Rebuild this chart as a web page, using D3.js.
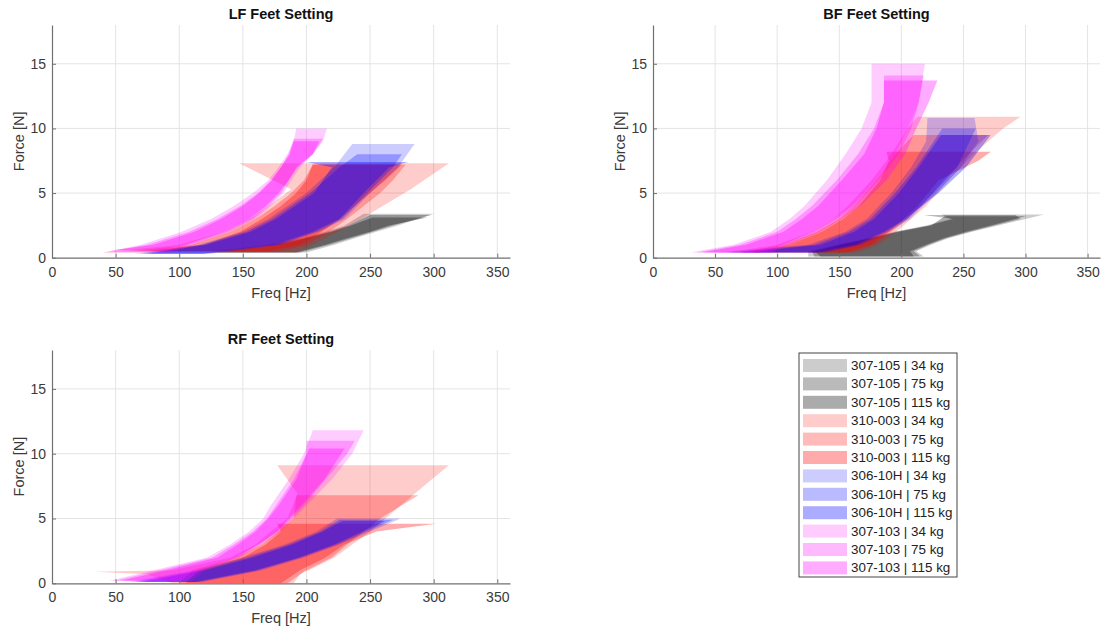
<!DOCTYPE html>
<html>
<head>
<meta charset="utf-8">
<script src="https://cdn.jsdelivr.net/npm/d3@7"></script>
<style>
  body { margin: 0; background: #fff; }
  svg { font-family: "Liberation Sans", Arial, sans-serif; }
</style>
</head>
<body>
<div id="chart"></div>
<script>
// series, in the order they are drawn (and listed in the legend)
const seriesNames = [
  "307-105 | 34 kg", "307-105 | 75 kg", "307-105 | 115 kg",
  "310-003 | 34 kg", "310-003 | 75 kg", "310-003 | 115 kg",
  "306-10H | 34 kg", "306-10H | 75 kg", "306-10H | 115 kg",
  "307-103 | 34 kg", "307-103 | 75 kg", "307-103 | 115 kg"
];
const seriesColors = ["#000000", "#000000", "#000000", "#ff0000", "#ff0000", "#ff0000",
                      "#0000ff", "#0000ff", "#0000ff", "#ff00ff", "#ff00ff", "#ff00ff"];
const seriesAlpha = [0.2, 0.27, 0.33, 0.2, 0.27, 0.33, 0.2, 0.27, 0.33, 0.2, 0.27, 0.33];

const xTicks = [0, 50, 100, 150, 200, 250, 300, 350];
const yTicks = [0, 5, 10, 15];

// each band: [force N, lowest freq Hz, highest freq Hz]
const lfBands = [
  [[0.4,120,200],[1,170,222],[1.5,195,238],[2,215,255],[2.5,230,272],[3.4,245,300]],
  [[0.4,125,195],[1,175,218],[1.5,198,235],[2,218,252],[2.5,233,268],[3.3,250,298]],
  [[0.4,130,192],[1,178,215],[1.5,200,232],[2,220,250],[2.5,235,265],[3.1,252,295]],
  [[0.4,40,192],[1,100,205],[2,135,225],[3,155,243],[4,170,260],[5.3,188,282],[7.3,147,312]],
  [[0.5,60,180],[1,110,200],[2,140,218],[3,160,232],[4,175,245],[5,188,258],[6,198,268],[7.2,205,278]],
  [[0.5,70,170],[1,120,195],[2,148,212],[3,165,226],[4,180,238],[5,192,250],[6,200,262],[7.2,205,275]],
  [[0.3,65,125],[1,115,180],[2,150,210],[3,170,230],[5,200,250],[7,222,272],[8.8,236,285]],
  [[0.3,70,120],[1,118,178],[2,153,208],[3,173,228],[5,203,248],[7,226,268],[8,240,275]],
  [[0.3,75,118],[1,121,175],[2,156,205],[3,176,226],[5,206,245],[7,220,265],[7.4,200,280]],
  [[0.4,40,95],[1,70,112],[2,102,140],[3,125,160],[4,143,172],[5,158,182],[6,170,188],[7,178,195],[8,185,205],[9,190,213],[10,192,216]],
  [[0.5,45,90],[1,75,108],[2,108,138],[3,130,158],[4,148,170],[5,162,180],[6,172,186],[7,180,192],[8,186,205],[9.2,190,213]],
  [[0.6,50,85],[1,80,105],[2,112,135],[3,133,155],[4,150,168],[5,163,178],[6,173,186],[7,180,193],[8,187,205],[9,190,210]]
];

const bfBands = [
  [[0.1,125,218],[0.5,125,212],[1,148,224],[1.5,172,238],[2,194,257],[2.5,220,278],[3,240,300],[3.35,232,315]],
  [[0.1,130,215],[0.5,128,210],[1,150,222],[1.5,175,236],[2,196,255],[2.5,222,275],[3,242,296],[3.3,218,292]],
  [[0.1,135,210],[0.5,130,207],[1,152,220],[1.5,176,234],[2,198,252],[2.5,224,272],[3.2,235,300]],
  [[0.4,60,165],[1,100,182],[2,128,196],[3,145,208],[4,157,220],[6,176,238],[8,192,258],[10,205,282],[10.9,213,296]],
  [[0.4,70,160],[1,105,178],[2,132,192],[3,150,205],[4,162,216],[6,180,234],[8,195,254],[9.5,210,270]],
  [[0.4,80,155],[1,110,175],[2,136,190],[3,153,202],[4,166,213],[6,183,230],[7.5,190,262],[8.2,188,272]],
  [[0.4,50,140],[1,125,168],[2,155,190],[3,172,207],[5,192,228],[7,208,248],[9,220,262],[10.8,221,259]],
  [[0.4,60,135],[1,130,165],[2,158,188],[3,175,205],[5,195,226],[7,212,245],[10,233,260]],
  [[0.4,70,130],[1,135,163],[2,162,186],[3,178,203],[5,198,230],[7,214,252],[9.5,232,272]],
  [[0.4,30,90],[1,65,105],[2,95,128],[3,110,145],[4,122,160],[6,140,180],[8,155,195],[10,168,205],[12,176,214],[15,176,219]],
  [[0.4,35,85],[1,70,105],[2,100,130],[3,115,148],[4,128,162],[6,148,182],[8,165,198],[10,178,208],[12,186,214],[14.1,186,218]],
  [[0.4,40,95],[1,75,110],[2,105,135],[3,120,152],[4,133,167],[6,152,188],[8,170,203],[10,180,212],[12,186,222],[13.7,186,229]]
];

const rfBands = [
  [], [], [],
  [[0,95,190],[0.7,75,195],[0.9,33,198],[1,95,202],[2,140,222],[3,160,236],[4,172,250],[5,185,262],[6.9,193,285],[9.1,177,312]],
  [[0,100,185],[1,110,200],[2,145,220],[3,165,232],[4,178,245],[5,190,258],[6.8,192,288]],
  [[0,105,180],[1,115,195],[2,150,215],[3,168,230],[4,180,255],[4.6,177,302]],
  [[0.1,60,118],[1,112,165],[2,150,198],[3,183,226],[4,208,250],[5,224,274]],
  [[0.1,65,115],[1,116,162],[2,154,196],[3,186,224],[4,211,247],[4.9,226,268]],
  [[0.1,70,112],[1,120,160],[2,158,194],[3,189,222],[4,213,244],[4.8,228,262]],
  [[0.2,45,110],[1,80,120],[2,122,148],[3,140,165],[4,155,180],[5,166,190],[6,172,200],[8,186,220],[10,198,236],[11.8,205,245]],
  [[0.2,50,105],[1,85,118],[2,126,146],[3,143,163],[4,158,178],[5,169,188],[6,176,198],[8,190,215],[10,200,232],[11,200,238]],
  [[0.2,55,100],[1,90,115],[2,130,145],[3,146,162],[4,160,177],[5,170,186],[6,178,196],[8,192,214],[10.4,202,230]]
];

const panels = [
  { title: "LF Feet Setting", bands: lfBands, left: 52,  right: 510,  top: 25,  bottom: 257.7 },
  { title: "BF Feet Setting", bands: bfBands, left: 653, right: 1100, top: 25,  bottom: 257.7 },
  { title: "RF Feet Setting", bands: rfBands, left: 52,  right: 510,  top: 350, bottom: 583.3 }
];

var svg = d3.select("#chart").append("svg")
            .attr("width", 1115)
            .attr("height", 630);

panels.forEach(function(p) {
    var x = d3.scaleLinear().domain([0, 360]).range([p.left, p.right]);
    var y = d3.scaleLinear().domain([0, 18]).range([p.bottom, p.top]);
    var g = svg.append("g");

    // grid
    g.append("g").selectAll("line").data(xTicks.slice(1)).enter().append("line")
        .attr("x1", d => x(d)).attr("x2", d => x(d))
        .attr("y1", p.top).attr("y2", p.bottom)
        .attr("stroke", "#e4e4e4").attr("stroke-width", 1);
    g.append("g").selectAll("line").data(yTicks.slice(1)).enter().append("line")
        .attr("x1", p.left).attr("x2", p.right)
        .attr("y1", d => y(d)).attr("y2", d => y(d))
        .attr("stroke", "#e4e4e4").attr("stroke-width", 1);

    // bands
    var area = d3.area()
                 .y(d => y(d[0]))
                 .x0(d => x(d[1]))
                 .x1(d => x(d[2]));

    g.append("g").selectAll("path")
        .data(p.bands.map((b, i) => ({ pts: b, i: i })).filter(d => d.pts.length))
        .enter().append("path")
        .attr("d", d => area(d.pts))
        .attr("fill", d => seriesColors[d.i])
        .attr("fill-opacity", d => seriesAlpha[d.i])
        .attr("stroke", "none");

    // axes
    var xAxis = g.append("g")
        .attr("transform", "translate(0," + p.bottom + ")")
        .call(d3.axisBottom(x).tickValues(xTicks).tickSizeInner(-4).tickSizeOuter(0).tickPadding(9));
    var yAxis = g.append("g")
        .attr("transform", "translate(" + p.left + ",0)")
        .call(d3.axisLeft(y).tickValues(yTicks).tickSizeInner(-4).tickSizeOuter(0).tickPadding(6));

    [xAxis, yAxis].forEach(function(a) {
        a.select(".domain").attr("stroke", "#707070").attr("stroke-width", 1.2);
        a.selectAll(".tick line").attr("stroke", "#707070");
        a.selectAll("text").attr("fill", "#3a3a3a").style("font-size", "14px")
         .style("font-family", "'Liberation Sans', Arial, sans-serif");
    });

    // labels
    g.append("text")
        .attr("x", (p.left + p.right) / 2).attr("y", p.top - 11)
        .attr("text-anchor", "middle").attr("dominant-baseline", "central")
        .style("font-size", "14.5px").style("font-weight", "bold").attr("fill", "#111")
        .text(p.title);
    g.append("text")
        .attr("x", (p.left + p.right) / 2).attr("y", p.bottom + 35)
        .attr("text-anchor", "middle").attr("dominant-baseline", "central")
        .style("font-size", "14.5px").attr("fill", "#3a3a3a")
        .text("Freq [Hz]");
    g.append("text")
        .attr("transform", "translate(" + (p.left - 33.5) + "," + ((p.top + p.bottom) / 2) + ") rotate(-90)")
        .attr("text-anchor", "middle").attr("dominant-baseline", "central")
        .style("font-size", "14.5px").attr("fill", "#3a3a3a")
        .text("Force [N]");
});

// legend
var legend = svg.append("g");
legend.append("rect")
    .attr("x", 799).attr("y", 353)
    .attr("width", 158).attr("height", 224)
    .attr("fill", "#fff").attr("stroke", "#444").attr("stroke-width", 1);

var rows = legend.selectAll("g.row").data(seriesNames).enter().append("g")
    .attr("class", "row")
    .attr("transform", (d, i) => "translate(0," + (365.5 + i * 18.4) + ")");
rows.append("rect")
    .attr("x", 803).attr("y", -6.5).attr("width", 44).attr("height", 13)
    .attr("fill", (d, i) => seriesColors[i])
    .attr("fill-opacity", (d, i) => seriesAlpha[i]);
rows.append("text")
    .attr("x", 851).attr("y", 0)
    .attr("dominant-baseline", "central")
    .style("font-size", "13.4px").attr("fill", "#222")
    .text(d => d);
</script>
</body>
</html>
